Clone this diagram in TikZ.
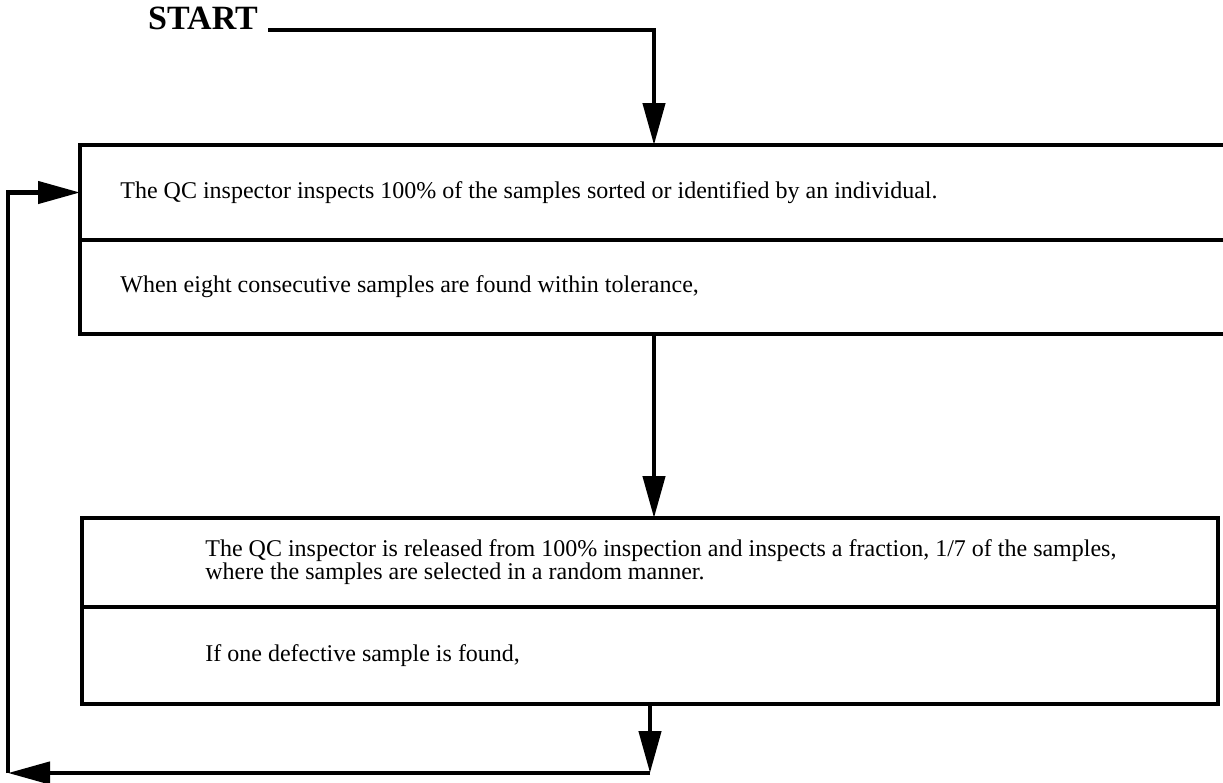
\documentclass[tikz,border=0pt]{standalone}
\usepackage{fontspec}
\setmainfont{Liberation Serif}
\usetikzlibrary{positioning, arrows.meta}

\begin{document}
\begin{tikzpicture}[
    x=0.5pt, y=-0.5pt,
    stage/.style = {draw, line width=1.6pt, outer sep=0pt, inner sep=0pt, minimum width=#1, anchor=north west},
    stage/.default=574pt,
    txt/.style = {font=\fontsize{12}{11.5}\selectfont, align=left, anchor=west, inner sep=0pt},
    flow/.style = {line width=2.2pt, -{Triangle[length=21pt, width=11pt]}}
  ]
  \clip (0,0) rectangle (1223,783);

  \node[font=\fontsize{17}{19}\selectfont\bfseries, inner sep=0pt] (start) at (203,18) {START};

  \node[stage, minimum height=47.5pt] (inspect) at (80,145) {};
  \node[stage, minimum height=47pt, below=0pt of inspect] (eight) {};
  \node[txt, right=20pt of inspect.west] (inspecttxt) {The QC inspector inspects 100\% of the samples sorted or identified by an individual.};
  \node[txt, right=20pt of eight.west] (eighttxt) {When eight consecutive samples are found within tolerance,};

  \node[stage=568pt, minimum height=44.5pt] (release) at (82,518) {};
  \node[stage=568pt, minimum height=48.5pt, below=0pt of release] (defect) {};
  \node[txt, right=61.5pt of release.west] (releasetxt) {The QC inspector is released from 100\% inspection and inspects a fraction, 1/7 of the samples,\\
    where the samples are selected in a random manner.};
  \node[txt, right=61.5pt of defect.west] (defecttxt) {If one defective sample is found,};

  \coordinate (loop) at (8,773);
  \coordinate (back) at (defect.south |- loop);

  \draw[flow] ([xshift=5pt]start.south east) -| (inspect.north);
  \draw[flow] (eight.south) -- (eight.south |- release.north);
  \draw[flow] (defect.south) -- (back);
  \draw[flow] (back) -- (loop);
  \draw[flow] (loop) |- (inspect.west);

\end{tikzpicture}
\end{document}
